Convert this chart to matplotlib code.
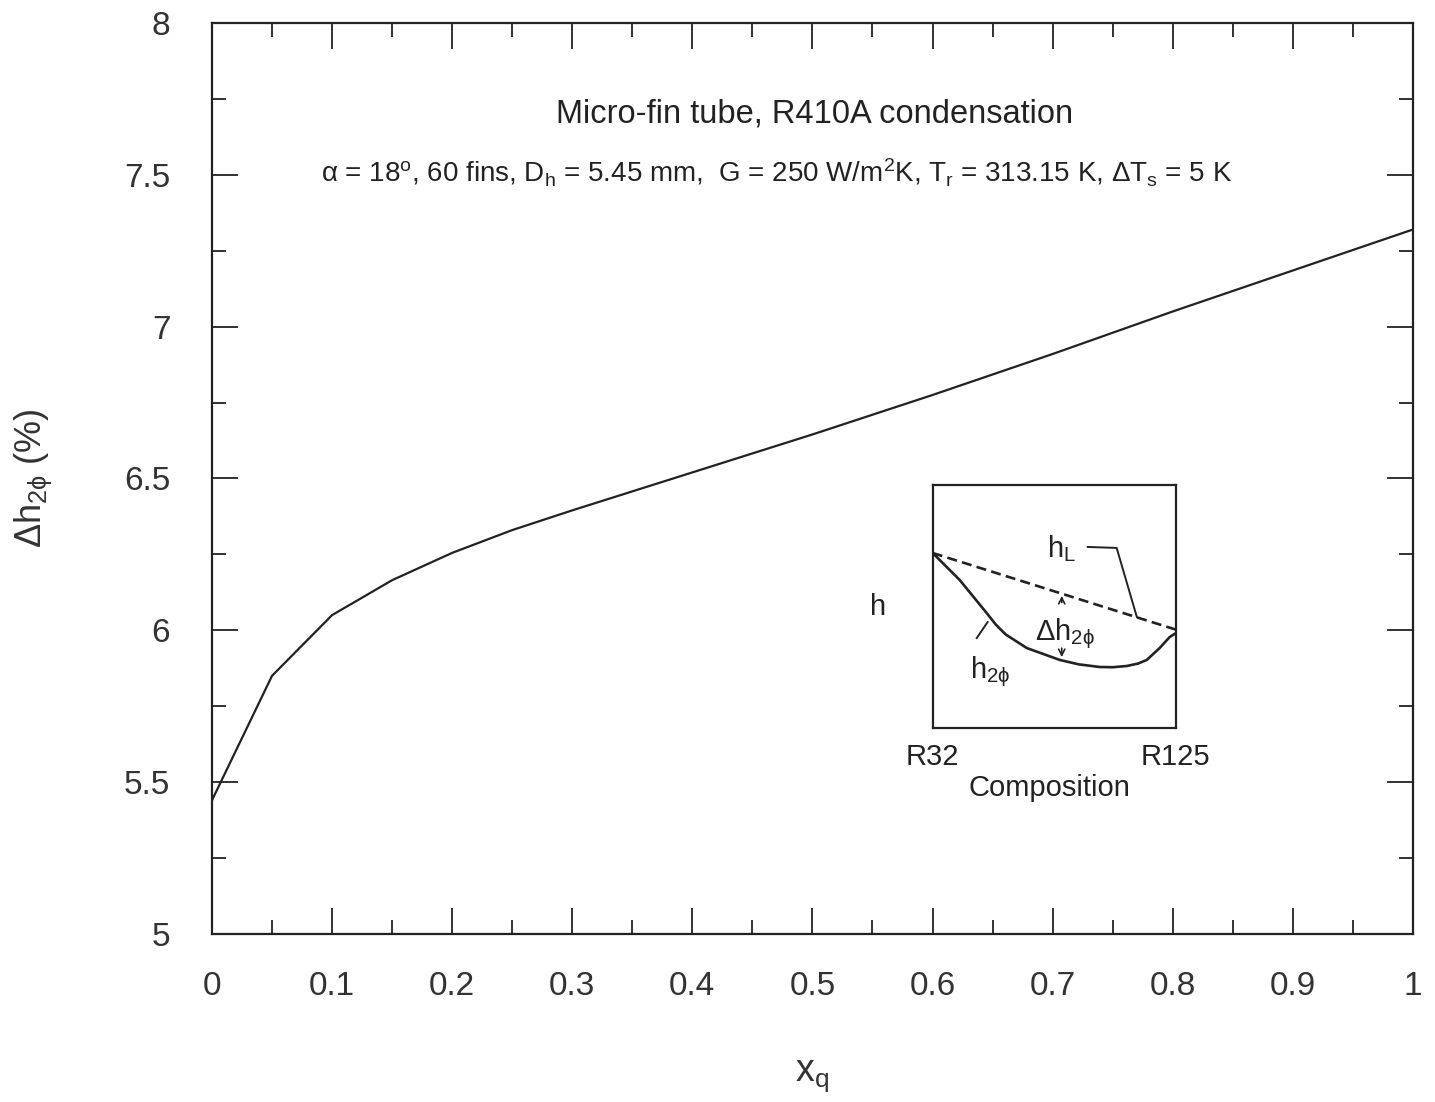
import matplotlib.pyplot as plt
import numpy as np
from matplotlib.ticker import MultipleLocator

plt.rcParams['font.family'] = ['Liberation Sans', 'DejaVu Sans']
plt.rcParams['mathtext.fontset'] = 'custom'
plt.rcParams['mathtext.rm'] = 'Liberation Sans'
plt.rcParams['mathtext.it'] = 'Liberation Sans'
plt.rcParams['mathtext.sf'] = 'Liberation Sans'

# curva principal
xq = [0.0, 0.05, 0.1, 0.15, 0.2, 0.25, 0.3, 0.4, 0.5, 0.6, 0.7, 0.8, 0.9, 1.0]
dh = [5.44, 5.85, 6.05, 6.165, 6.255, 6.33, 6.395, 6.52, 6.645, 6.775, 6.91, 7.05, 7.185, 7.32]

# esquema del recuadro (unidades arbitrarias)
comp_l = [0.0, 1.0]
h_l = [0.72, 0.405]
comp_2f = [0.0, 0.111, 0.222, 0.26, 0.30, 0.387, 0.523, 0.60, 0.687, 0.74, 0.798, 0.845, 0.881, 0.934, 0.975, 1.0]
h_2f = [0.72, 0.609, 0.473, 0.425, 0.385, 0.329, 0.28, 0.262, 0.251, 0.25, 0.255, 0.265, 0.28, 0.329, 0.374, 0.39]

ink = '#222222'

fig = plt.figure(figsize=(14.35, 11.02), dpi=100)
ax = fig.add_axes([0.1477, 0.1525, 0.8369, 0.8266])
ax.plot(xq, dh, color=ink, lw=1.6)
ax.set_xlim(0, 1)
ax.set_ylim(5, 8)
ax.xaxis.set_minor_locator(MultipleLocator(0.05))
ax.yaxis.set_minor_locator(MultipleLocator(0.25))
ax.set_xticks(np.arange(0, 1.01, 0.1))
ax.set_xticklabels(['0', '0.1', '0.2', '0.3', '0.4', '0.5', '0.6', '0.7', '0.8', '0.9', '1'])
ax.set_yticks([5, 5.5, 6, 6.5, 7, 7.5, 8])
ax.set_yticklabels(['5', '5.5', '6', '6.5', '7', '7.5', '8'])
ax.tick_params(which='both', direction='in', top=True, right=True, color=ink, width=1.3)
ax.tick_params(which='major', length=19, labelsize=24, labelcolor='#333333')
ax.tick_params(which='minor', length=10)
ax.tick_params(axis='x', which='major', pad=27)
ax.tick_params(axis='y', which='major', pad=30)
for s in ax.spines.values():
    s.set_linewidth(1.6)
    s.set_color(ink)

ax.set_xlabel(r'x$_{\rm q}$', fontsize=27, color='#333333', labelpad=40)
ax.set_ylabel(r'$\Delta$h$_{2\phi}$ (%)', fontsize=26, color='#333333', labelpad=50)

ax.text(0.502, 0.900, 'Micro-fin tube, R410A condensation', transform=ax.transAxes,
        ha='center', va='center', fontsize=23.5, color=ink)
ax.text(0.47, 0.835,
        r'$\alpha$ = 18$^{\rm o}$, 60 fins, D$_{\rm h}$ = 5.45 mm,  G = 250 W/m$^{\rm 2}$K, '
        r'T$_{\rm r}$ = 313.15 K, $\Delta$T$_{\rm s}$ = 5 K',
        transform=ax.transAxes, ha='center', va='center', fontsize=20, color=ink)

# recuadro
ins = fig.add_axes([0.650, 0.3394, 0.1693, 0.2205])
ins.plot(comp_l, h_l, color=ink, lw=1.9, ls=(0, (3.8, 2.0)))
ins.plot(comp_2f, h_2f, color=ink, lw=1.9)
ins.set_xlim(0, 1)
ins.set_ylim(0, 1)
ins.set_xticks([])
ins.set_yticks([])
for s in ins.spines.values():
    s.set_linewidth(1.6)
    s.set_color(ink)
ins.plot([0.638, 0.757, 0.84], [0.745, 0.741, 0.457], color=ink, lw=1.4)
ins.plot([0.181, 0.226], [0.37, 0.436], color=ink, lw=1.4)
ins.annotate('', xy=(0.531, 0.555), xytext=(0.531, 0.505),
             arrowprops=dict(arrowstyle='->', color=ink, lw=1.2, mutation_scale=11))
ins.annotate('', xy=(0.531, 0.28), xytext=(0.531, 0.34),
             arrowprops=dict(arrowstyle='->', color=ink, lw=1.2, mutation_scale=11))
fs = 21
ins.text(0.53, 0.74, r'h$_{\rm L}$', fontsize=fs, color=ink, ha='center', va='center')
ins.text(0.545, 0.39, r'$\Delta$h$_{2\phi}$', fontsize=fs, color=ink, ha='center', va='center')
ins.text(0.235, 0.23, r'h$_{2\phi}$', fontsize=fs, color=ink, ha='center', va='center')
ins.text(-0.226, 0.498, 'h', fontsize=fs, color=ink, ha='center', va='center')
ins.text(0.0, -0.12, 'R32', fontsize=fs, color=ink, ha='center', va='center', transform=ins.transAxes)
ins.text(1.0, -0.12, 'R125', fontsize=fs, color=ink, ha='center', va='center', transform=ins.transAxes)
ins.text(0.48, -0.245, 'Composition', fontsize=fs, color=ink, ha='center', va='center', transform=ins.transAxes)

fig.savefig('out.png', dpi=100)
